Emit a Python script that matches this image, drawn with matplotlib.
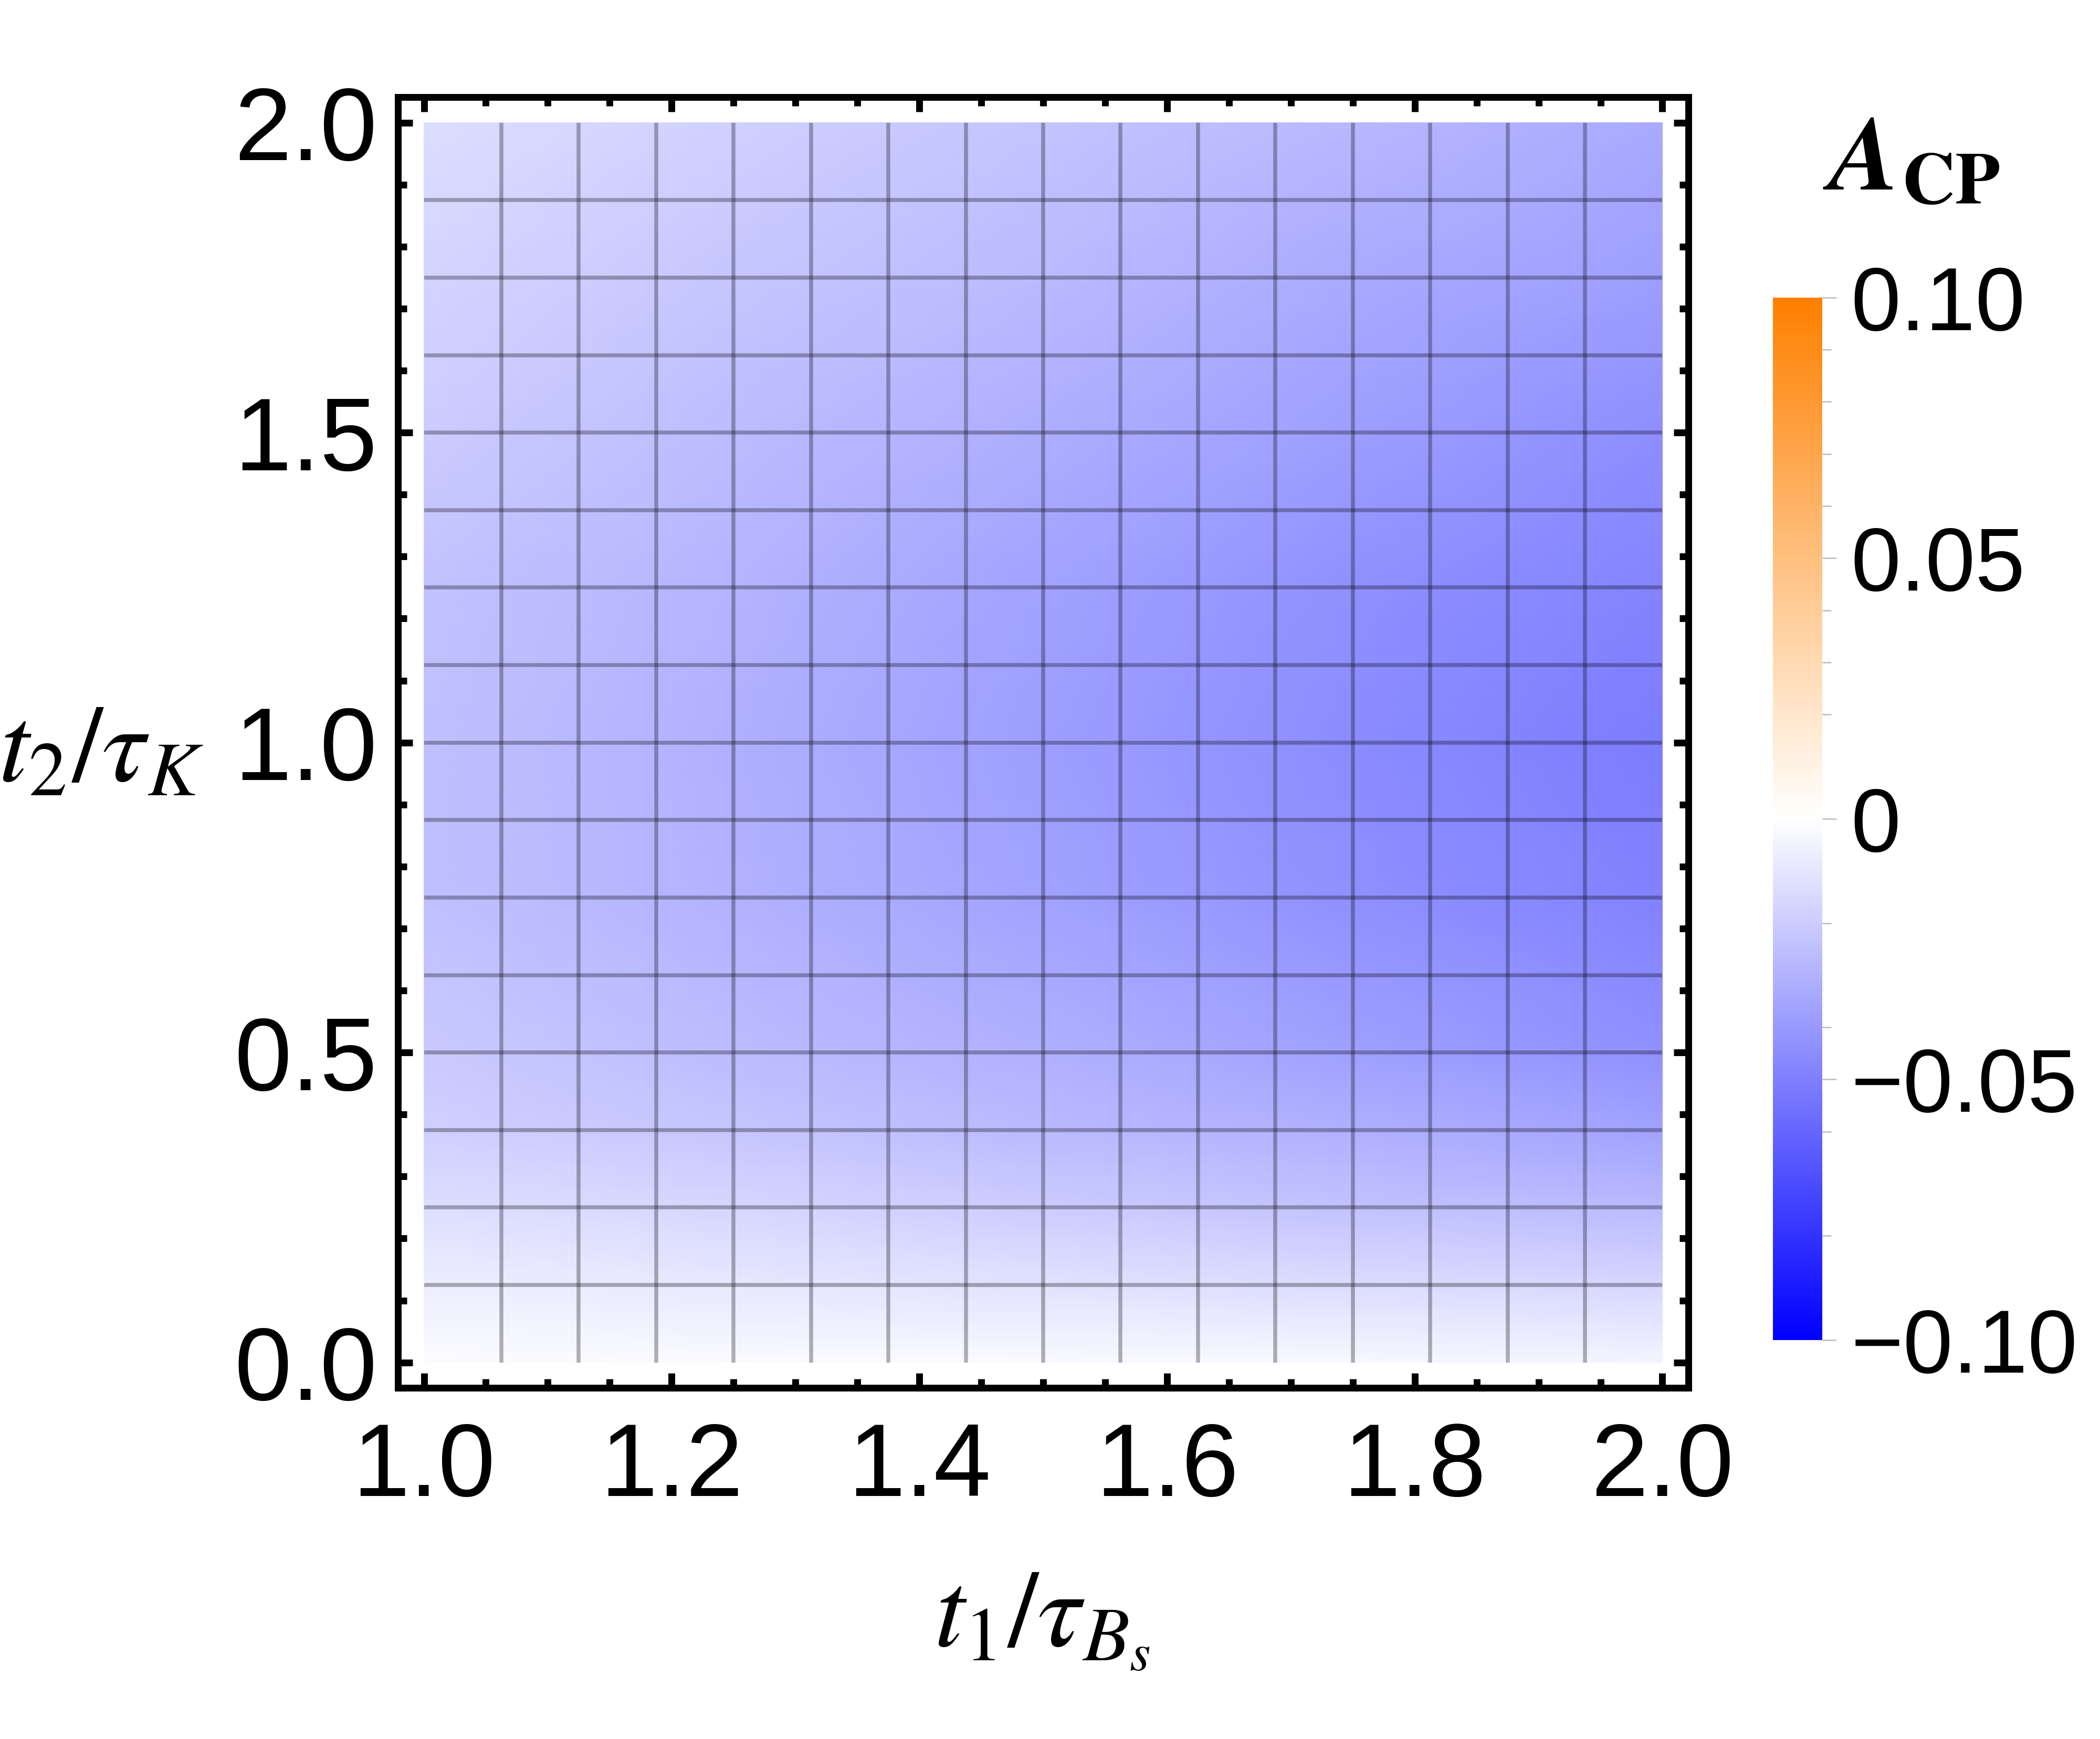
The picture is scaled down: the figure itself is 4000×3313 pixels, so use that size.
import numpy as np
import matplotlib.pyplot as plt
from matplotlib.colors import LinearSegmentedColormap
from matplotlib.ticker import MultipleLocator, FixedLocator, FixedFormatter

plt.rcParams['font.family'] = ['Liberation Sans', 'DejaVu Sans']
plt.rcParams['mathtext.fontset'] = 'stix'

t1 = [1.0, 1.25, 1.5, 1.75, 2.0]
t2 = [0.0, 0.125, 0.25, 0.375, 0.5, 0.75, 1.0, 1.25, 1.5, 1.75, 2.0]
acp = [
    [-0.001, -0.002, -0.002, -0.003, -0.004],
    [-0.007, -0.009, -0.011, -0.014, -0.016],
    [-0.013, -0.016, -0.020, -0.024, -0.027],
    [-0.018, -0.022, -0.027, -0.031, -0.036],
    [-0.021, -0.026, -0.031, -0.037, -0.043],
    [-0.025, -0.030, -0.036, -0.043, -0.049],
    [-0.025, -0.031, -0.038, -0.045, -0.051],
    [-0.024, -0.029, -0.036, -0.043, -0.048],
    [-0.020, -0.026, -0.032, -0.038, -0.044],
    [-0.017, -0.022, -0.027, -0.033, -0.038],
    [-0.013, -0.018, -0.023, -0.028, -0.033],
]
cb_ticks = [-0.10, -0.05, 0.0, 0.05, 0.10]
cb_labels = ['\u22120.10', '\u22120.05', '0', '0.05', '0.10']
cb_minor = [0.09, 0.08, 0.07, 0.06, 0.04, 0.03, 0.02, -0.02, -0.04, -0.06, -0.08]

cmap = LinearSegmentedColormap.from_list('bwo', [(0, 0, 1), (1, 1, 1), (1, 0.5, 0)])

fig = plt.figure(figsize=(40 / 3, 33.13 / 3), dpi=300)
ax = fig.add_axes([0.1895, 0.2019, 0.6145, 0.7422])

X, Y = np.meshgrid(t1, t2)
mesh = ax.pcolormesh(X, Y, np.array(acp), cmap=cmap, vmin=-0.1, vmax=0.1,
                     shading='gouraud', rasterized=True)

# mesh lines of the density plot
ax.vlines(1 + np.arange(1, 16) / 16, 0, 2, colors='k', alpha=0.3, lw=1.8)
ax.hlines(np.arange(1, 16) / 8, 1, 2, colors='k', alpha=0.3, lw=1.8)

ax.set_xlim(0.979, 2.021)
ax.set_ylim(-0.041, 2.041)
ax.xaxis.set_major_locator(MultipleLocator(0.2))
ax.xaxis.set_minor_locator(MultipleLocator(0.05))
ax.yaxis.set_major_locator(MultipleLocator(0.5))
ax.yaxis.set_minor_locator(MultipleLocator(0.1))
ax.xaxis.set_major_formatter(lambda v, p: f'{v:.1f}')
ax.yaxis.set_major_formatter(lambda v, p: f'{v:.1f}')

for s in ax.spines.values():
    s.set_linewidth(3.1)
ax.tick_params(which='both', direction='in', top=True, right=True, width=3.1)
ax.tick_params(which='major', length=6.8, labelsize=47)
ax.tick_params(which='minor', length=4)
ax.tick_params(axis='x', which='major', pad=15)
ax.tick_params(axis='y', which='major', pad=9.5)

ax.set_xlabel(r'$t_1/\tau_{B_s}$', fontsize=50, va='baseline')
ax.xaxis.set_label_coords(0.499, -0.20)
ax.set_ylabel(r'$t_2/\tau_K$', fontsize=50, rotation=0, ha='right', va='baseline')
ax.yaxis.set_label_coords(-0.1505, 0.470)

cax = fig.add_axes([0.8443, 0.2294, 0.0235, 0.5995])
cb = fig.colorbar(mesh, cax=cax)
cb.outline.set_visible(False)
cax.yaxis.set_major_locator(FixedLocator(cb_ticks))
cax.yaxis.set_major_formatter(FixedFormatter(cb_labels))
cax.yaxis.set_minor_locator(FixedLocator(cb_minor))
cax.tick_params(which='major', length=6.5, width=0.6, color='#bbbbbb', labelsize=41, pad=6.5)
cax.tick_params(which='minor', length=4, width=0.6, color='#bbbbbb')

fig.text(0.868, 0.891, r'$\mathbfit{A}_{\mathbf{CP}}$', fontsize=48, va='baseline', ha='left')

fig.savefig('out.png', dpi=300)
